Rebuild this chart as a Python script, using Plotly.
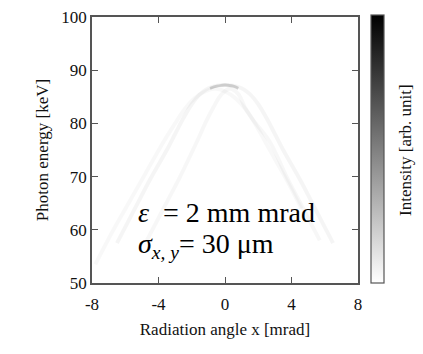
import plotly.graph_objects as go

# Arcs (radiation angle x [mrad], photon energy [keV])
arc_outer_x = [-6.5, -5.5, -4.5, -3.5, -3.0, -2.5, -2.0, -1.5, -1.0, -0.5, 0.0, 0.5, 1.0, 1.5, 2.0, 2.5, 3.0, 3.5, 4.5, 5.5, 6.5]
arc_outer_e = [57.5, 63.5, 69.5, 75.0, 78.0, 81.0, 83.6, 85.5, 86.6, 87.1, 87.2, 87.1, 86.6, 85.5, 83.6, 81.0, 78.0, 75.0, 69.5, 63.5, 57.5]

arc_left_x = [-7.8, -6.8, -5.8, -4.8, -3.8, -3.0, -2.4, -1.8, -1.2, -0.6, 0.0, 0.6, 1.2, 1.8, 2.6, 3.6, 4.6]
arc_left_e = [53.5, 59.5, 65.0, 70.5, 76.0, 80.0, 82.8, 84.8, 86.0, 86.5, 86.0, 84.8, 82.8, 80.0, 75.5, 70.0, 64.0]

arc_inner_x = [-4.7, -3.7, -2.7, -1.7, -1.1, -0.7, -0.2, 0.3, 0.8, 1.2, 1.7, 2.7, 3.7, 4.7, 5.7]
arc_inner_e = [58.0, 64.0, 70.0, 76.5, 80.6, 83.0, 85.5, 86.5, 85.5, 83.0, 80.6, 76.5, 70.0, 64.0, 58.0]

peak_x = [-0.9, -0.5, -0.2, 0.0, 0.2, 0.5, 0.8]
peak_e = [86.6, 87.0, 87.15, 87.2, 87.15, 87.0, 86.6]

x_ticks = [-8, -4, 0, 4, 8]
y_ticks = [50, 60, 70, 80, 90, 100]

serif = "Liberation Serif"

fig = go.Figure()

for xs, es, w, a in [
    (arc_left_x, arc_left_e, 4, 0.028),
    (arc_inner_x, arc_inner_e, 4, 0.03),
    (arc_outer_x, arc_outer_e, 4, 0.038),
]:
    fig.add_trace(go.Scatter(
        x=xs, y=es, mode="lines", line=dict(color=f"rgba(0,0,0,{a})", width=w, shape="spline"),
        hoverinfo="skip", showlegend=False))

fig.add_trace(go.Scatter(
    x=peak_x, y=peak_e, mode="lines", line=dict(color="rgba(0,0,0,0.16)", width=3, shape="spline"),
    hoverinfo="skip", showlegend=False))

# colour bar carrier
fig.add_trace(go.Scatter(
    x=[None], y=[None], mode="markers",
    marker=dict(color=[0, 1], cmin=0, cmax=1,
                colorscale=[[0, "#ffffff"], [1, "#000000"]], showscale=True,
                colorbar=dict(
                    x=(371 - 92) / 266, xanchor="left", xref="paper", xpad=0, ypad=0,
                    y=1 + 2 / 266, yanchor="top",
                    len=(283 - 15) / 266, lenmode="fraction", thickness=13, thicknessmode="pixels",
                    outlinecolor="#555555", outlinewidth=1.2,
                    showticklabels=False, ticks="")),
    hoverinfo="skip", showlegend=False))

fig.add_annotation(xref="paper", yref="paper", x=(405 - 92) / 266, y=1 - (150 - 17) / 266,
                   xanchor="center", yanchor="middle", showarrow=False, textangle=-90,
                   text="Intensity [arb. unit]",
                   font=dict(family=serif, size=17, color="#111111"))

fig.add_annotation(xref="paper", yref="paper", x=(136 - 92) / 266, y=1 - (212 - 17) / 266,
                   xanchor="left", yanchor="middle", showarrow=False,
                   text="<i>ε</i>  = 2 mm mrad",
                   font=dict(family=serif, size=28, color="#000000"))
fig.add_annotation(xref="paper", yref="paper", x=(136 - 92) / 266, y=1 - (245 - 17) / 266,
                   xanchor="left", yanchor="middle", showarrow=False,
                   text="<i>σ</i><sub><i>x, y</i></sub>= 30 μm",
                   font=dict(family=serif, size=28, color="#000000"))

axis_common = dict(showgrid=False, zeroline=False, showline=True, linecolor="#555555",
                   linewidth=1.5, mirror="ticks", ticks="inside", ticklen=6,
                   tickcolor="#555555", tickwidth=1,
                   tickfont=dict(family=serif, size=17, color="#111111"))

fig.update_layout(
    width=423, height=354,
    margin=dict(l=92, r=65, t=17, b=71, autoexpand=False),
    paper_bgcolor="white", plot_bgcolor="white",
    xaxis=dict(range=[-8, 8], tickvals=x_ticks, ticktext=[str(v) for v in x_ticks],
               ticklabelstandoff=5,
               title=dict(text="Radiation angle x [mrad]", standoff=10,
                          font=dict(family=serif, size=17, color="#111111")),
               **axis_common),
    yaxis=dict(range=[50, 100], tickvals=y_ticks, ticktext=[str(v) for v in y_ticks],
               title=dict(text="Photon energy [keV]", standoff=8,
                          font=dict(family=serif, size=17, color="#111111")),
               **axis_common),
)

fig.write_html("out.html")
